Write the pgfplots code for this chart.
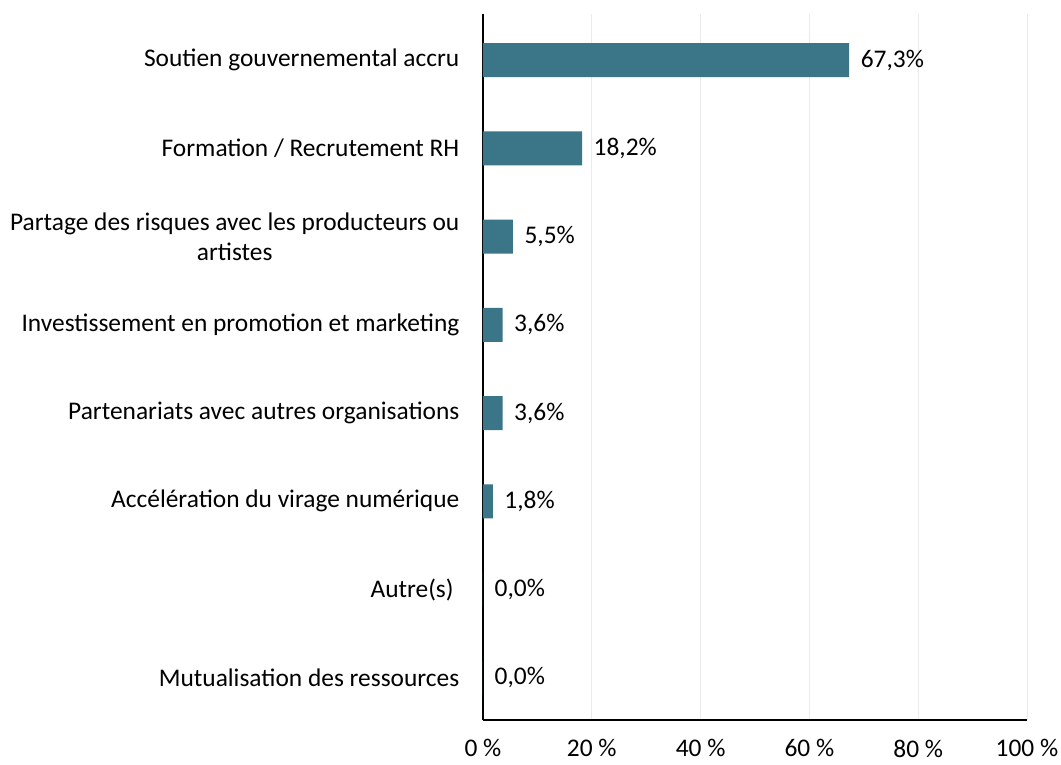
\documentclass[border=0pt]{standalone}
\usepackage{fontspec}
\setmainfont{Carlito}
\usepackage{pgfplots}
\pgfplotsset{compat=1.18}
\definecolor{barc}{HTML}{3A7588}
\definecolor{gridc}{HTML}{EBEBEB}
\begin{document}
\fontsize{25.4}{29.5}\selectfont
\begin{tikzpicture}
\useasboundingbox (0,0) rectangle (1061pt,765pt);
\begin{axis}[
  at={(483pt,45pt)}, anchor=south west,
  scale only axis, width=544pt, height=706pt,
  xbar, bar width=34pt,
  xmin=0, xmax=100,
  ymin=0.478, ymax=8.478, y dir=reverse,
  axis x line=bottom, axis y line=left,
  axis line style={-, black, line width=1.6pt},
  xtick={0,20,40,60,80,100},
  ytick={1,...,8},
  yticklabels={Soutien gouvernemental accru,Formation / Recrutement RH,{Partage des risques avec les producteurs ou\\artistes},Investissement en promotion et marketing,Partenariats avec autres organisations,Accélération du virage numérique,Autre(s)\ ,Mutualisation des ressources},
  yticklabel style={align=center, font=\fontsize{25.4}{29.5}\selectfont, xshift=-15pt},
  xticklabel style={font=\fontsize{25.4}{29.5}\selectfont, yshift=-11pt},
  /pgf/number format/assume math mode=true,
  xticklabel={\pgfmathprintnumber{\tick}\ \%},
  major tick length=0pt,
  xmajorgrids, grid style={gridc, line width=1pt},
  nodes near coords={\pgfmathprintnumber[fixed,fixed zerofill,precision=1,use comma]{\pgfplotspointmeta}\%},
  nodes near coords style={anchor=west, xshift=3pt, font=\fontsize{25.4}{29.5}\selectfont, text=black},
  point meta=x,
  clip=false,
]
\addplot[fill=barc, draw=none] coordinates {(67.3,1) (18.2,2) (5.5,3) (3.6,4) (3.6,5) (1.8,6) (0,7) (0,8)};
\end{axis}
\end{tikzpicture}
\end{document}
